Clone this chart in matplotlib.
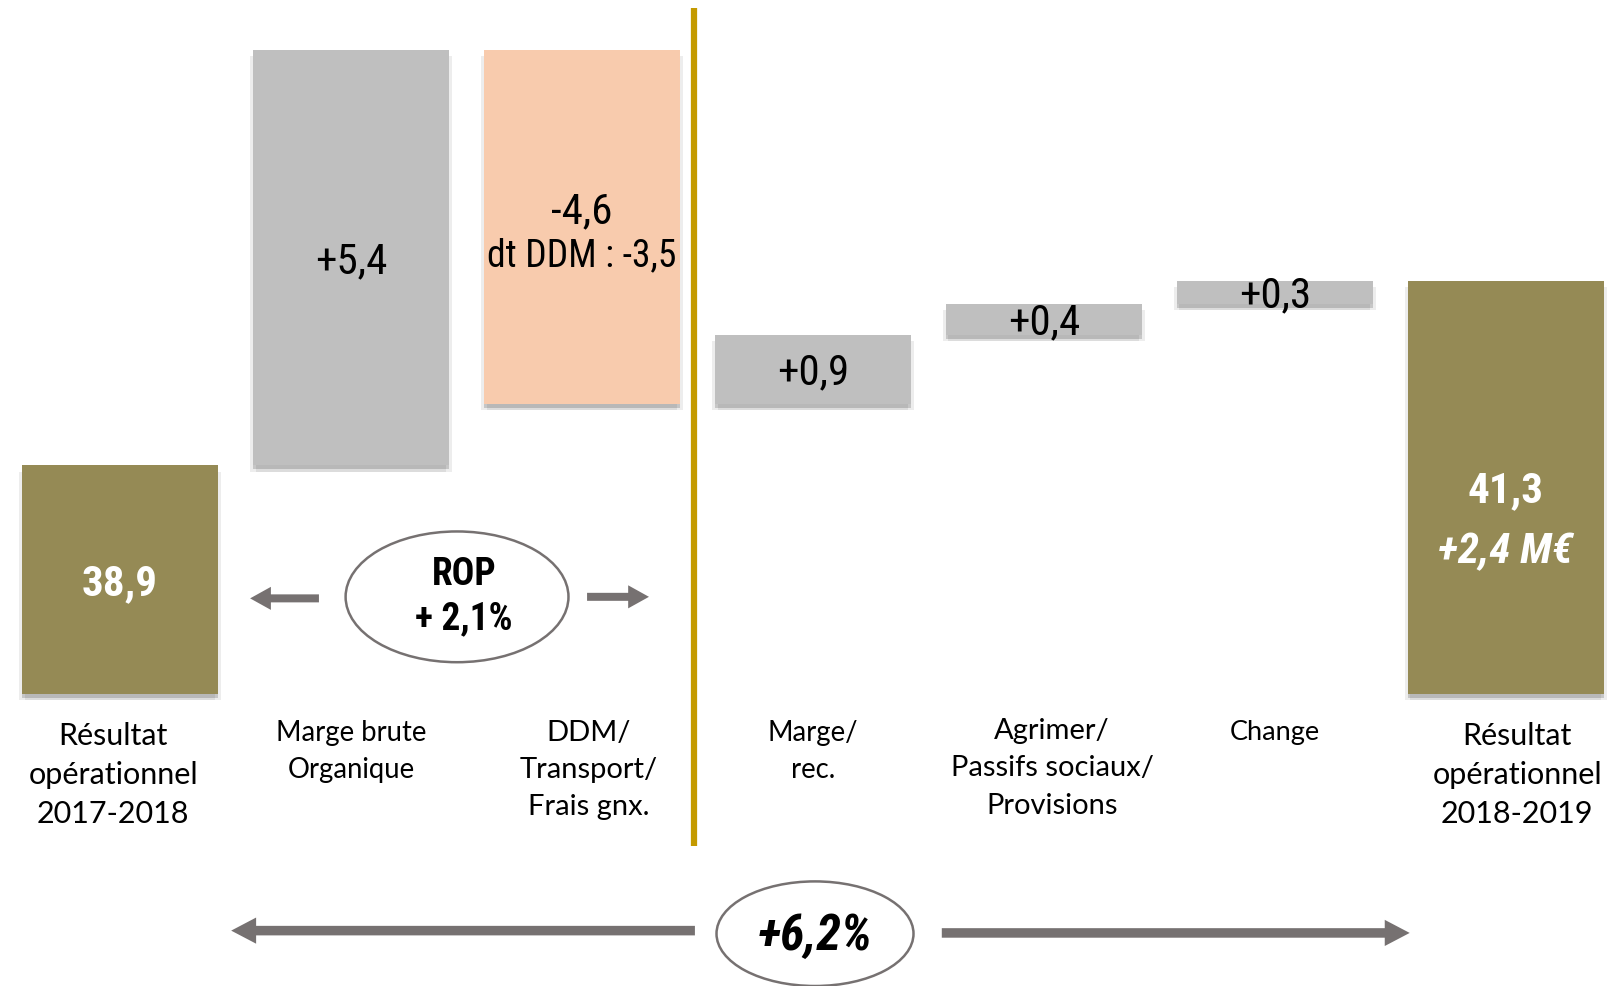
import matplotlib
matplotlib.use("Agg")
import matplotlib.pyplot as plt
from matplotlib import font_manager as fm
from matplotlib.patches import Ellipse, FancyArrow
import matplotlib.patheffects as pe

# ---------------- data ----------------
categories = ["Résultat\nopérationnel\n2017-2018", "Marge brute\nOrganique",
              "DDM/\nTransport/\nFrais gnx.", "Marge/\nrec.",
              "Agrimer/\nPassifs sociaux/\nProvisions", "Change",
              "Résultat\nopérationnel\n2018-2019"]
start_value = 38.9
deltas = [5.4, -4.6, 0.9, 0.4, 0.3]
end_value = 41.3
value_labels = ["38,9", "+5,4", "-4,6", "+0,9", "+0,4", "+0,3", "41,3"]
sub_label_ddm = "dt DDM : -3,5"
end_sub_label = "+2,4 M€"
rop_label = "ROP\n+ 2,1%"
total_label = "+6,2%"
axis_base = 35.93


# ---------------- fonts ----------------
def pick_narrow():
    cands = []
    for f in fm.fontManager.ttflist:
        key = (f.name + " " + f.fname).lower()
        if "narrow" in key or "condensed" in key or str(f.stretch) not in ("normal", "500", "medium"):
            cands.append(f)
    prefs = ["Liberation Sans Narrow", "Arial Narrow", "Roboto Condensed",
             "Open Sans Condensed", "Noto Sans", "DejaVu Sans", "Roboto",
             "Open Sans", "Lato", "Inter"]
    for p in prefs:
        for f in cands:
            if f.name == p and ("condensed" in str(f.stretch) or "narrow" in f.name.lower()
                                or "condensed" in f.name.lower()):
                return p, f.stretch
    for f in cands:
        if "condensed" in str(f.stretch):
            return f.name, f.stretch
    return None, None


nname, nstretch = pick_narrow()
if nname is None:
    NARROW = dict(family=["Liberation Sans", "DejaVu Sans"])
    FS = 0.9
else:
    NARROW = dict(family=[nname, "Liberation Sans", "DejaVu Sans"], fontstretch=nstretch)
    FS = 1.0
LABEL_FONT = ["Lato", "DejaVu Sans"]

# ---------------- style ----------------
OLIVE = "#958A55"
GREY = "#BFBFBF"
PEACH = "#F8CBAD"
GOLD = "#C49A00"
ARROW = "#767171"

fig = plt.figure(figsize=(16.12, 9.86), dpi=100)
ax = fig.add_axes([0, 0, 1, 1])
ax.set_xlim(-0.52, 6.46)
ax.set_ylim(32.13, 44.95)
ax.axis("off")

shadow = [pe.SimplePatchShadow(offset=(0, -3), shadow_rgbFace="#000000", alpha=0.16),
          pe.SimplePatchShadow(offset=(-2, -4.5), shadow_rgbFace="#000000", alpha=0.07),
          pe.SimplePatchShadow(offset=(2, -4.5), shadow_rgbFace="#000000", alpha=0.07),
          pe.Normal()]

width = 0.85
bottoms, heights, colors = [], [], []
bottoms.append(axis_base); heights.append(start_value - axis_base); colors.append(OLIVE)
cum = start_value
for d in deltas:
    low = min(cum, cum + d)
    bottoms.append(low); heights.append(abs(d))
    colors.append(GREY if d > 0 else PEACH)
    cum += d
bottoms.append(axis_base); heights.append(end_value - axis_base); colors.append(OLIVE)

xs = list(range(len(categories)))
bars = ax.bar(xs, heights, bottom=bottoms, width=width, color=colors, zorder=2)
for b in bars:
    b.set_path_effects(shadow)

dy = -0.05
for i, (x, b, h, lab) in enumerate(zip(xs, bottoms, heights, value_labels)):
    mid = b + h / 2 + dy
    if i == 0:
        ax.text(x, mid, lab, ha="center", va="center", fontsize=31 * FS, fontweight="bold",
                color="white", zorder=5, **NARROW)
    elif i == len(xs) - 1:
        ax.text(x, mid, lab, ha="center", va="center", fontsize=31 * FS, fontweight="bold",
                color="white", zorder=5, **NARROW)
        ax.text(x, mid - 0.79, end_sub_label, ha="center", va="center", fontsize=31 * FS,
                fontweight="bold", fontstyle="italic", color="white", zorder=5, **NARROW)
    elif i == 2:
        ax.text(x, mid + 0.25, lab, ha="center", va="center", fontsize=31 * FS,
                color="black", zorder=5, **NARROW)
        ax.text(x, mid - 0.33, sub_label_ddm, ha="center", va="center", fontsize=27 * FS,
                color="black", zorder=5, **NARROW)
    else:
        ax.text(x, mid, lab, ha="center", va="center", fontsize=31 * FS,
                color="black", zorder=5, **NARROW)

label_dx = [-0.03, 0.0, 0.03, 0.0, 0.035, 0.0, 0.05]
label_top = [35.56, 35.59, 35.59, 35.59, 35.61, 35.59, 35.56]
label_fs = [22, 19.8, 21, 19.8, 21, 19.5, 22]
label_ls = [1.47, 1.52, 1.53, 1.52, 1.53, 1.5, 1.47]
for x, c, ddx, ty, fs, ls in zip(xs, categories, label_dx, label_top, label_fs, label_ls):
    ax.text(x + ddx, ty, c, ha="center", va="top",
            fontsize=fs, family=LABEL_FONT, color="black", linespacing=ls)

# vertical separator
ax.plot([2.485, 2.485], [33.95, 44.84], color=GOLD, lw=4.5, solid_capstyle="butt", zorder=3)

# ROP ellipse + arrows
ax.add_patch(Ellipse((1.459, 37.19), 0.965, 1.70, facecolor="white", edgecolor=ARROW,
                     lw=1.8, zorder=4))
ax.text(1.49, 37.19, rop_label, ha="center", va="center", fontsize=27 * FS, fontweight="bold",
        linespacing=1.25, zorder=5, **NARROW)
for tail, tip, y in [(0.861, 0.563, 37.17), (2.022, 2.290, 37.19)]:
    ax.add_patch(FancyArrow(tail, y, tip - tail, 0, width=0.104, head_width=0.30,
                            head_length=0.09, length_includes_head=True,
                            color=ARROW, lw=0, zorder=4))

# bottom ellipse + arrows
for tail, tip, y in [(2.489, 0.481, 32.85), (3.558, 5.584, 32.82)]:
    ax.add_patch(FancyArrow(tail, y, tip - tail, 0, width=0.124, head_width=0.34,
                            head_length=0.108, length_includes_head=True,
                            color=ARROW, lw=0, zorder=4))
ax.add_patch(Ellipse((3.009, 32.81), 0.853, 1.36, facecolor="white", edgecolor=ARROW,
                     lw=1.8, zorder=4))
ax.text(3.009, 32.78, total_label, ha="center", va="center", fontsize=36 * FS, fontweight="bold",
        fontstyle="italic", zorder=5, **NARROW)

fig.savefig("out.png", dpi=100)
